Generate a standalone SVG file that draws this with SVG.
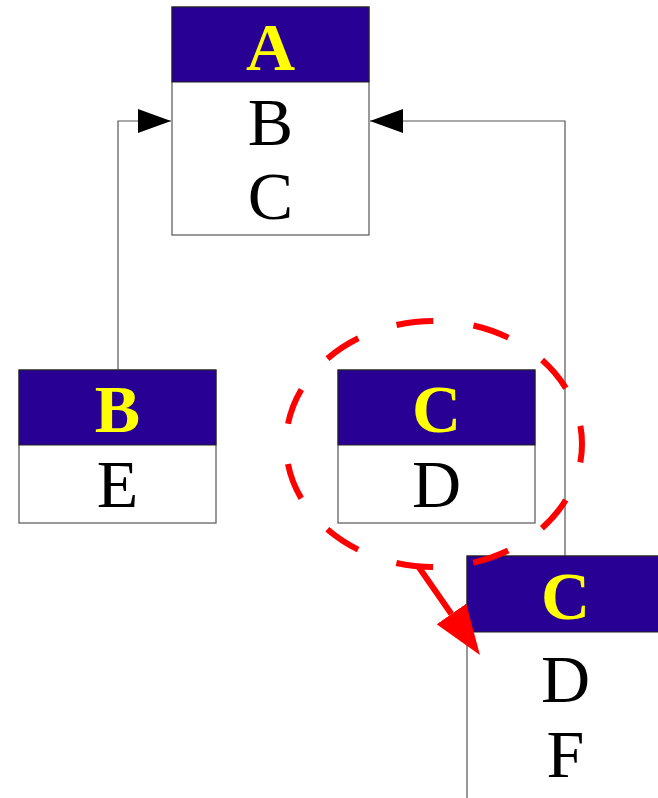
<svg xmlns="http://www.w3.org/2000/svg" width="658" height="798" viewBox="0 0 658 798">
  <style>
    .hdr { fill: #290094; stroke: #222; stroke-width: 1; }
    .body { fill: #ffffff; stroke: #555; stroke-width: 1.2; }
    .title { font-family: "Liberation Serif", serif; font-weight: bold; font-size: 68px; fill: #ffff00; text-anchor: middle; }
    .attr { font-family: "Liberation Serif", serif; font-size: 68px; fill: #000; text-anchor: middle; }
    .link { fill: none; stroke: #555; stroke-width: 1.2; }
  </style>
  <defs>
    <marker id="tri" markerUnits="userSpaceOnUse" markerWidth="34" markerHeight="24" refX="33" refY="12" orient="auto">
      <path d="M0,0 L33,12 L0,24 Z" fill="#000"/>
    </marker>
    <!-- red head attaches at its base so the shaft never pokes past the tip -->
    <marker id="redtri" markerUnits="userSpaceOnUse" markerWidth="52" markerHeight="36" refX="0" refY="18" orient="auto">
      <path d="M0,0 L50,18 L0,36 Z" fill="#ff0000"/>
    </marker>
  </defs>

  <g id="connectors">
    <polyline class="link" points="118,370 118,121 171,121" marker-end="url(#tri)"/>
    <polyline class="link" points="565,556 565,121 370,121" marker-end="url(#tri)"/>
  </g>

  <g id="node-A">
    <rect class="body" x="172" y="7" width="197" height="228"/>
    <rect class="hdr" x="172" y="7" width="197" height="75"/>
    <text class="title" x="270.5" y="70">A</text>
    <text class="attr" x="270.5" y="145">B</text>
    <text class="attr" x="270.5" y="219">C</text>
  </g>

  <g id="node-B">
    <rect class="body" x="19" y="370" width="197" height="153"/>
    <rect class="hdr" x="19" y="370" width="197" height="75"/>
    <text class="title" x="117.5" y="432">B</text>
    <text class="attr" x="117.5" y="507">E</text>
  </g>

  <g id="node-C1">
    <rect class="body" x="338" y="370" width="197" height="153"/>
    <rect class="hdr" x="338" y="370" width="197" height="75"/>
    <text class="title" x="436.5" y="432">C</text>
    <text class="attr" x="436.5" y="507">D</text>
  </g>

  <g id="node-C2">
    <rect class="body" x="467" y="556" width="197" height="260"/>
    <rect class="hdr" x="467" y="556" width="197" height="76"/>
    <text class="title" x="565.5" y="619">C</text>
    <text class="attr" x="565.5" y="702">D</text>
    <text class="attr" x="565.5" y="777">F</text>
  </g>

  <!-- dashed highlight ring and the red move arrow drawn above the boxes -->
  <g id="highlight">
    <ellipse cx="434" cy="444" rx="148" ry="123" fill="none" stroke="#ff0000" stroke-width="6" stroke-dasharray="37 40.55" stroke-dashoffset="18.5"/>
    <line x1="418" y1="566" x2="451.4" y2="614" stroke="#ff0000" stroke-width="6" marker-end="url(#redtri)"/>
  </g>
</svg>
